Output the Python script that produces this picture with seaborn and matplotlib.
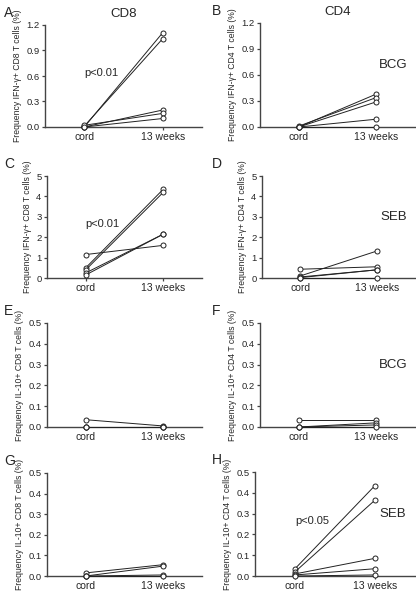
import matplotlib
matplotlib.use("Agg")
import matplotlib.pyplot as plt
import numpy as np
import pandas as pd
import seaborn as sns

# x categories
timepoints = ["cord", "13 weeks"]

# per-panel paired values (cord, 13 weeks)
a_cord = [0.00, 0.01, 0.00, 0.02, 0.00]
a_13w = [1.11, 1.04, 0.20, 0.16, 0.10]

b_cord = [0.00, 0.01, 0.00, 0.00, 0.00]
b_13w = [0.38, 0.34, 0.29, 0.09, 0.00]

c_cord = [1.15, 0.50, 0.40, 0.25, 0.15]
c_13w = [1.60, 4.35, 4.20, 2.15, 2.15]

d_cord = [0.43, 0.10, 0.05, 0.02, 0.00]
d_13w = [0.55, 1.32, 0.40, 0.40, 0.00]

e_cord = [0.035, 0.000, 0.000, 0.000]
e_13w = [0.005, 0.000, 0.000, 0.000]

f_cord = [0.035, 0.000, 0.000, 0.000]
f_13w = [0.035, 0.020, 0.010, 0.000]

g_cord = [0.015, 0.000, 0.000, 0.000]
g_13w = [0.055, 0.048, 0.005, 0.000]

h_cord = [0.035, 0.020, 0.010, 0.005, 0.000]
h_13w = [0.435, 0.365, 0.085, 0.035, 0.005]

panels = [
    # letter, cord, 13w, ylabel, ymax, yticks, title, stim, pval, rect(px: left, right, top, bottom)
    ("A", a_cord, a_13w, "Frequency IFN-\u03b3+ CD8 T cells (%)", 1.2,
     [0.0, 0.3, 0.6, 0.9, 1.2], "CD8", None, "p<0.01", (45, 202, 25, 127)),
    ("B", b_cord, b_13w, "Frequency IFN-\u03b3+ CD4 T cells (%)", 1.2,
     [0.0, 0.3, 0.6, 0.9, 1.2], "CD4", "BCG", None, (260, 415, 23, 127)),
    ("C", c_cord, c_13w, "Frequency IFN-\u03b3+ CD8 T cells (%)", 5,
     [0, 1, 2, 3, 4, 5], None, None, "p<0.01", (47, 202, 176, 278)),
    ("D", d_cord, d_13w, "Frequency IFN-\u03b3+ CD4 T cells (%)", 5,
     [0, 1, 2, 3, 4, 5], None, "SEB", None, (262, 415, 176, 278)),
    ("E", e_cord, e_13w, "Frequency IL-10+ CD8 T cells (%)", 0.5,
     [0.0, 0.1, 0.2, 0.3, 0.4, 0.5], None, None, None, (47, 202, 323, 427)),
    ("F", f_cord, f_13w, "Frequency IL-10+ CD4 T cells (%)", 0.5,
     [0.0, 0.1, 0.2, 0.3, 0.4, 0.5], None, "BCG", None, (260, 415, 323, 427)),
    ("G", g_cord, g_13w, "Frequency IL-10+ CD8 T cells (%)", 0.5,
     [0.0, 0.1, 0.2, 0.3, 0.4, 0.5], None, None, None, (47, 202, 473, 576)),
    ("H", h_cord, h_13w, "Frequency IL-10+ CD4 T cells (%)", 0.5,
     [0.0, 0.1, 0.2, 0.3, 0.4, 0.5], None, "SEB", "p<0.05", (255, 415, 472, 576)),
]

sns.set_style("ticks")
plt.rcParams["font.family"] = ["Liberation Sans", "DejaVu Sans"]

W, H = 416, 591
fig = plt.figure(figsize=(W / 100, H / 100), dpi=100)

for letter, cord, wk13, ylabel, ymax, yticks, title, stim, pval, rect in panels:
    left, right, top, bottom = rect
    ax = fig.add_axes([left / W, 1 - bottom / H, (right - left) / W, (bottom - top) / H])

    n = len(cord)
    df = pd.DataFrame({
        "subject": list(range(n)) * 2,
        "x": [0] * n + [1] * n,
        "value": list(cord) + list(wk13),
    })
    sns.lineplot(data=df, x="x", y="value", units="subject", estimator=None,
                 color="#222222", linewidth=0.7, marker="o", markersize=3.6,
                 markerfacecolor="white", markeredgecolor="#222222",
                 markeredgewidth=0.7, ax=ax, clip_on=False, zorder=3)

    ax.set_xlim(-0.5, 1.5)
    ax.set_ylim(0, ymax)
    ax.set_xticks([0, 1])
    ax.set_xticklabels(timepoints, fontsize=7.5)
    ax.set_yticks(yticks)
    if ymax == 5:
        ax.set_yticklabels([str(t) for t in yticks], fontsize=6.8)
    else:
        ax.set_yticklabels([f"{t:.1f}" for t in yticks], fontsize=6.8)
    ax.set_xlabel("")
    ax.set_ylabel(ylabel, fontsize=6.2, labelpad=3)
    ax.tick_params(axis="both", length=2.5, width=0.9, pad=1.5, color="#444444")
    ax.tick_params(axis="x", pad=1.0)
    sns.despine(ax=ax)
    for s in ("left", "bottom"):
        ax.spines[s].set_linewidth(1.0)
        ax.spines[s].set_color("#444444")

    if title:
        ax.set_title(title, fontsize=9.5, pad=6)
    if stim:
        ax.text(0.86, 0.6, stim, transform=ax.transAxes, fontsize=9.5,
                ha="center", va="center")
    if pval:
        ax.text(0.36, 0.53, pval, transform=ax.transAxes, fontsize=8,
                ha="center", va="center")

    lx = 4 if left < 200 else 212
    fig.text(lx / W, 1 - (top - 12) / H, letter, fontsize=10, ha="left", va="center")

fig.savefig("out.png", dpi=100)
